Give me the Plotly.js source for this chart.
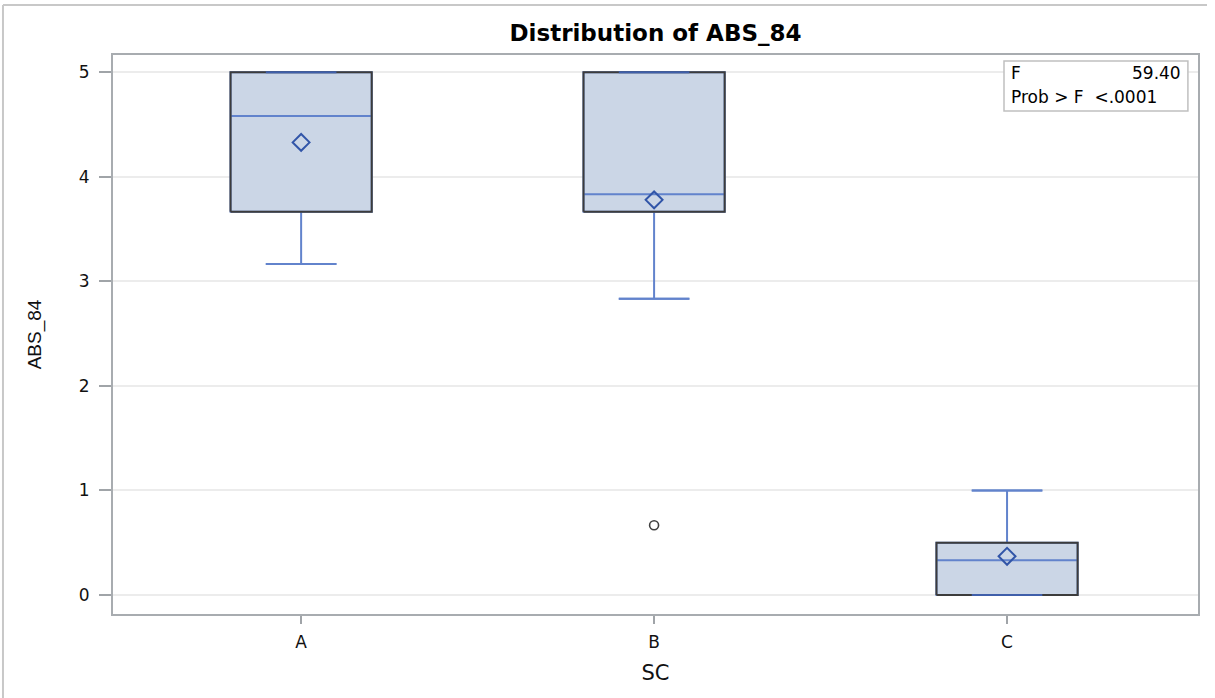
<!DOCTYPE html>
<html>
<head>
<meta charset="utf-8">
<script src="https://cdn.plot.ly/plotly-3.0.1.min.js"></script>
<style>
  html, body { margin: 0; padding: 0; background: #ffffff; }
  #chart { width: 1215px; height: 698px; }
</style>
</head>
<body>
<div id="chart"></div>
<script>
// Summary statistics of ABS_84 by SC group
const groups      = ['A', 'B', 'C'];
const q1Vals      = [3.667, 3.667, 0];
const medianVals  = [4.583, 3.833, 0.333];
const q3Vals      = [5, 5, 0.5];
const lowerFences = [3.167, 2.833, 0];
const upperFences = [5, 5, 1];
const meanVals    = [4.33, 3.78, 0.37];
const outlierGroup = ['B'];
const outlierVals  = [0.667];
const fStat = '59.40';
const probF = '<.0001';

const BOX_W = 0.4;
const CAP_W = 0.2;
const pos = g => groups.indexOf(g);

const fillCol = '#cbd6e6';
const whiskerCol = '#6283cc';
const edgeCol = '#3c3c3c';
const mainFont = 'DejaVu Sans, Verdana, sans-serif';

const traces = [];

// Box bodies, whiskers and medians from precomputed statistics
groups.forEach((g, i) => {
  traces.push({
    type: 'box',
    x: [pos(g)],
    q1: [q1Vals[i]],
    median: [medianVals[i]],
    q3: [q3Vals[i]],
    lowerfence: [lowerFences[i]],
    upperfence: [upperFences[i]],
    width: BOX_W,
    whiskerwidth: CAP_W / BOX_W,
    fillcolor: fillCol,
    line: { color: whiskerCol, width: 2 },
    boxpoints: false,
    hoverinfo: 'skip',
    showlegend: false
  });
});

// Dark box outlines
groups.forEach((g, i) => {
  const c = pos(g), h = BOX_W / 2;
  traces.push({
    type: 'scatter', mode: 'lines',
    x: [c - h, c + h, c + h, c - h, c - h],
    y: [q1Vals[i], q1Vals[i], q3Vals[i], q3Vals[i], q1Vals[i]],
    line: { color: edgeCol, width: 2 },
    hoverinfo: 'skip', showlegend: false
  });
});

// Whisker caps drawn over the outline where they coincide with box edges
groups.forEach((g, i) => {
  const c = pos(g), h = CAP_W / 2;
  [lowerFences[i], upperFences[i]].forEach(v => {
    traces.push({
      type: 'scatter', mode: 'lines',
      x: [c - h, c + h], y: [v, v],
      line: { color: (v === q1Vals[i] || v === q3Vals[i]) ? '#3f5faa' : whiskerCol, width: 2 },
      hoverinfo: 'skip', showlegend: false
    });
  });
});

// Means
traces.push({
  type: 'scatter', mode: 'markers',
  x: groups.map(pos), y: meanVals,
  marker: { symbol: 'diamond-open', size: 13, color: '#3155a8', line: { width: 2, color: '#3155a8' } },
  showlegend: false
});

// Outliers
traces.push({
  type: 'scatter', mode: 'markers',
  x: outlierGroup.map(pos), y: outlierVals,
  marker: { symbol: 'circle-open', size: 9, color: '#404040', line: { width: 1.6, color: '#404040' } },
  showlegend: false
});

const layout = {
  width: 1215, height: 698,
  margin: { l: 113, r: 17, t: 55, b: 84 },
  paper_bgcolor: '#ffffff',
  plot_bgcolor: '#ffffff',
  font: { family: mainFont, color: '#000000' },
  title: {
    text: '<b>Distribution of ABS_84</b>',
    x: 0.5, xref: 'paper', xanchor: 'center',
    y: 0.9527, yref: 'container', yanchor: 'middle',
    font: { size: 23, family: mainFont, color: '#000000' }
  },
  xaxis: {
    range: [-0.533, 2.541],
    tickvals: groups.map(pos),
    ticktext: groups,
    ticks: 'outside', ticklen: 8, tickcolor: '#a0a4a8', tickwidth: 2,
    ticklabelstandoff: 4,
    tickfont: { size: 17, color: '#111111' },
    showgrid: false, zeroline: false,
    showline: true, linecolor: '#a8acb0', linewidth: 2, mirror: true,
    title: { text: 'SC', font: { size: 21, color: '#111111' }, standoff: 14 }
  },
  yaxis: {
    range: [-0.182, 5.166],
    tickvals: [0, 1, 2, 3, 4, 5],
    ticks: 'outside', ticklen: 12, tickcolor: '#a0a4a8', tickwidth: 2,
    ticklabelstandoff: 6,
    tickfont: { size: 17, color: '#111111' },
    showgrid: true, gridcolor: '#ececec', gridwidth: 2,
    zeroline: false,
    showline: true, linecolor: '#a8acb0', linewidth: 2, mirror: true,
    title: { text: 'ABS_84', font: { size: 19, color: '#111111', family: 'Liberation Sans, Arial, sans-serif' }, standoff: 32 }
  },
  shapes: [
    // outer frame (top and left edges)
    { type: 'line', xref: 'paper', yref: 'paper', x0: -0.1014, x1: 1.0083, y0: 1.0894, y1: 1.0894,
      line: { color: '#c8c8c8', width: 2 } },
    { type: 'line', xref: 'paper', yref: 'paper', x0: -0.1014, x1: -0.1014, y0: 1.0894, y1: -0.2,
      line: { color: '#c8c8c8', width: 2 } },
    // statistics inset
    { type: 'rect', xref: 'paper', yref: 'paper', x0: 0.8212, x1: 0.9907, y0: 0.9893, y1: 0.8998,
      line: { color: '#c0c0c0', width: 1.5 }, fillcolor: '#ffffff' }
  ],
  annotations: [
    { xref: 'paper', yref: 'paper', x: 0.8257, y: 0.9678, xanchor: 'left', yanchor: 'middle',
      text: 'F', showarrow: false, font: { size: 17 } },
    { xref: 'paper', yref: 'paper', x: 0.9862, y: 0.9678, xanchor: 'right', yanchor: 'middle',
      text: fStat, showarrow: false, font: { size: 17 } },
    { xref: 'paper', yref: 'paper', x: 0.8257, y: 0.9249, xanchor: 'left', yanchor: 'middle',
      text: 'Prob &gt; F&nbsp; ' + probF.replace('<', '&lt;'), showarrow: false, font: { size: 17 } }
  ]
};

Plotly.newPlot('chart', traces, layout, { displayModeBar: false, staticPlot: true });
</script>
</body>
</html>
